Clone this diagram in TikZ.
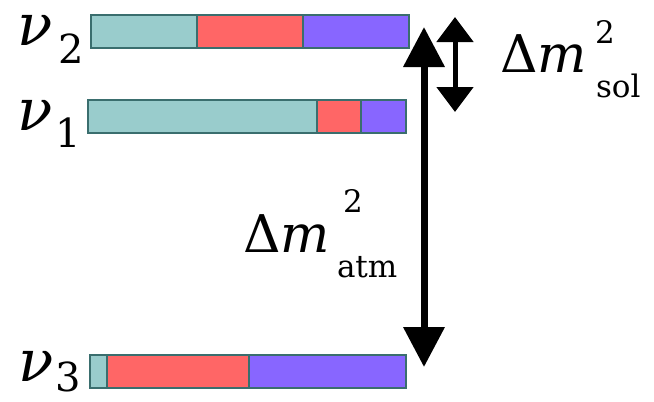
\documentclass[tikz,border=0pt]{standalone}
\usepackage{fontspec}
\setmainfont{DejaVu Serif}
\usetikzlibrary{arrows.meta}
\definecolor{tealc}{HTML}{99CCCC}
\definecolor{redc}{HTML}{FF6666}
\definecolor{purc}{HTML}{8866FF}
\definecolor{edgec}{HTML}{3A6E6E}
\begin{document}
\begin{tikzpicture}[x=1pt,y=-1pt,
  seg/.style={draw=edgec,line width=1.3pt,inner sep=0pt,outer sep=0pt,minimum height=33pt,anchor=north west},
  lbl/.style={inner sep=0pt,outer sep=0pt,anchor=base west},
  nufont/.style={font=\fontsize{58}{58}\selectfont\itshape,text height=0.55em,text depth=0pt},
  subfont/.style={font=\fontsize{40}{40}\selectfont,text height=0.73em,text depth=0pt},
  bigfont/.style={font=\fontsize{52}{52}\selectfont,text height=0.73em,text depth=0pt},
  smallfont/.style={font=\fontsize{31}{31}\selectfont,text height=0.76em,text depth=0pt},
  bigarrow/.style={line width=7pt,{Triangle[width=40pt,length=40pt]}-{Triangle[width=40pt,length=40pt]}},
  smallarrow/.style={line width=5pt,{Triangle[width=36pt,length=25pt]}-{Triangle[width=36pt,length=25pt]}}]
\useasboundingbox (0,0) rectangle (654,402);
% nu_2 bar
\node[seg,fill=tealc,minimum width=106pt] (t2) at (91,15) {};
\node[seg,fill=redc,minimum width=106pt] (r2) at (197,15) {};
\node[seg,fill=purc,minimum width=106pt] (p2) at (303,15) {};
% nu_1 bar
\node[seg,fill=tealc,minimum width=229pt] (t1) at (88,100) {};
\node[seg,fill=redc,minimum width=44pt] (r1) at (317,100) {};
\node[seg,fill=purc,minimum width=45pt] (p1) at (361,100) {};
% nu_3 bar
\node[seg,fill=tealc,minimum width=17pt] (t3) at (90,355) {};
\node[seg,fill=redc,minimum width=142pt] (r3) at (107,355) {};
\node[seg,fill=purc,minimum width=157pt] (p3) at (249,355) {};
% labels
\node[lbl,nufont] (nu2) at (17,45) {ν};
\node[lbl,subfont] (s2) at (58,63) {2};
\node[lbl,nufont] (nu1) at (17,130) {ν};
\node[lbl,subfont] (s1) at (56,147) {1};
\node[lbl,nufont] (nu3) at (19,381) {ν};
\node[lbl,subfont] (s3) at (56,391) {3};
% arrows
\coordinate (atop) at (424,27);
\coordinate (abot) at (424,367);
\draw[bigarrow] (atop) -- (abot);
\coordinate (stop) at (455,17);
\coordinate (sbot) at (455,112);
\draw[smallarrow] (stop) -- (sbot);
% mass labels
\node[lbl,bigfont] (dsol) at (500,72) {Δ\textit{m}};
\node[lbl,smallfont] (sol2) at (595,43) {2};
\node[lbl,smallfont] (sol) at (596,97) {sol};
\node[lbl,bigfont] (datm) at (243,252) {Δ\textit{m}};
\node[lbl,smallfont] (atm2) at (343,212) {2};
\node[lbl,smallfont] (atm) at (337,277) {atm};
\end{tikzpicture}
\end{document}
